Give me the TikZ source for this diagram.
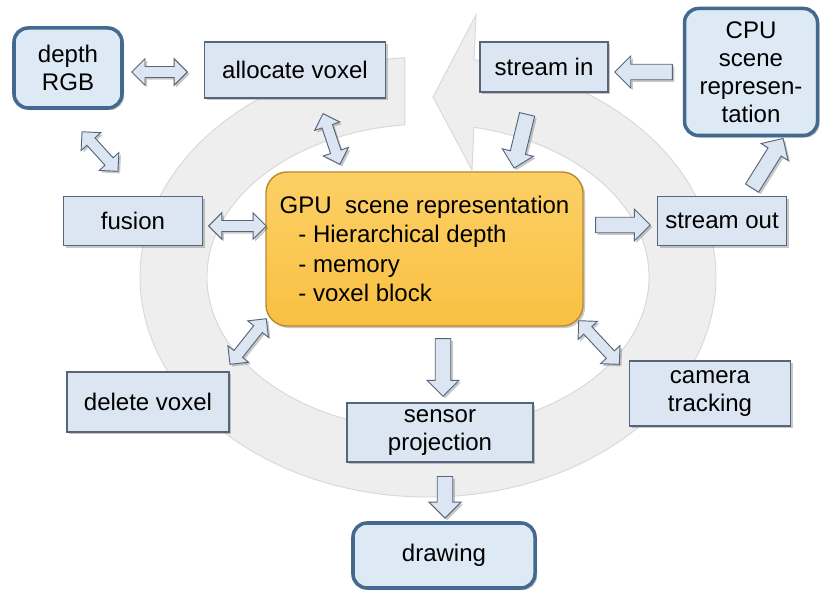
\documentclass[tikz,border=0pt]{standalone}
\usepackage{fontspec}
\setmainfont{Liberation Sans}
\usetikzlibrary{shapes.arrows,shadows,calc}
\definecolor{boxfill}{HTML}{DCE6F2}
\definecolor{boxdraw}{HTML}{56667A}
\definecolor{rfill}{HTML}{DDEAF6}
\definecolor{rdraw}{HTML}{44698F}
\definecolor{gputop}{HTML}{FCD066}
\definecolor{gpubot}{HTML}{F9C042}
\definecolor{gpudraw}{HTML}{B98A30}
\definecolor{ringfill}{HTML}{EEEEEE}
\definecolor{ringdraw}{HTML}{D8D8D8}
\tikzset{
  txt/.style={font=\fontsize{20.5}{24}\selectfont},
  wh/.style 2 args={minimum width=#1*0.03cm, minimum height=#2*0.03cm},
  shad/.style={drop shadow={shadow xshift=1.8pt, shadow yshift=-1.8pt, opacity=0.3, fill=black!70}},
  sq/.style={txt, draw=boxdraw, fill=boxfill, line width=1.1pt, align=center, inner sep=0pt, shad},
  rbox/.style={txt, draw=rdraw, fill=rfill, line width=3pt, rounded corners=12pt, align=center, inner sep=0pt, shad},
  gpubox/.style={font=\fontsize{20.5}{25}\selectfont, draw=gpudraw, top color=gputop, bottom color=gpubot, line width=1.2pt, rounded corners=18pt, align=left, inner sep=0pt, shad},
  dbl/.style={double arrow, draw=boxdraw, fill=boxfill, line width=0.8pt, inner xsep=0pt, inner ysep=4.3pt, double arrow head extend=6.6pt, double arrow tip angle=90, shad},
  sgl/.style={single arrow, draw=boxdraw, fill=boxfill, line width=0.8pt, inner xsep=0pt, inner ysep=6.2pt, single arrow head extend=7pt, single arrow tip angle=90, shad},
  ring/.style={fill=ringfill, draw=ringdraw, line width=0.8pt}
}
\newcommand\fatarrow[3]{\path let \p1=#2, \p2=#3, \n1={atan2(\y2-\y1,\x2-\x1)}, \n2={veclen(\x2-\x1,\y2-\y1)} in node[#1, rotate=\n1, minimum height=\n2] at ($#2!0.5!#3$) {};}
\begin{document}
\begin{tikzpicture}[x=0.03cm, y=0.03cm]
\fill[white] (0,0) rectangle (825,591);
\useasboundingbox (0,0) rectangle (825,591);
% big circular arrow
\path[ring] (428,314) ++(94.6:288 and 220)
  arc[start angle=94.6, end angle=440.8, x radius=288, y radius=220]
  -- (476,576) -- (433,494) -- (472,421)
  -- ($(428,314)+(438:221 and 153)$)
  arc[start angle=438, end angle=96, x radius=221, y radius=153] -- cycle;
% nodes
\node[rbox, wh={108}{80}] (depth) at (68,523) {depth\\RGB};
\node[sq, wh={181}{56}] (alloc) at (295,521) {allocate voxel};
\node[sq, wh={128}{50}] (streamin) at (544,524) {stream in};
\node[rbox, wh={133}{127}] (cpu) at (751,519) {CPU\\scene\\represen-\\tation};
\node[sq, wh={139}{49}] (fusion) at (133,370) {fusion};
\node[gpubox, wh={317}{154}] (gpu) at (424.5,342) {GPU~ scene representation\\\hspace*{16pt}- Hierarchical depth\\\hspace*{16pt}- memory\\\hspace*{16pt}- voxel block};
\node[sq, wh={129}{49}] (streamout) at (722,370) {stream out};
\node[sq, wh={162}{60}] (delete) at (148,189) {delete voxel};
\node[sq, wh={186}{59}] (sensor) at (440,158.5) {sensor\\projection};
\node[sq, wh={161}{65}] (camera) at (710,197.5) {camera\\tracking};
\node[rbox, wh={182}{65}] (drawing) at (444,35.5) {drawing};
% block arrows
\fatarrow{dbl}{($(depth.east)+(8,-4)$)}{($(alloc.west)+(-16.5,-2)$)}
\fatarrow{dbl}{($(depth.south)+(14,-22)$)}{($(fusion.north)+(-15,24.5)$)}
\fatarrow{dbl}{($(alloc.south)+(28,-15)$)}{($(gpu.north)+(-84.5,7)$)}
\fatarrow{sgl}{($(streamin.south)+(-16,-18)$)}{($(gpu.north)+(90.5,7)$)}
\fatarrow{sgl}{($(cpu.west)+(-6.5,0)$)}{($(streamin.east)+(10,-5)$)}
\fatarrow{sgl}{($(streamout.north)+(28,4.5)$)}{($(cpu.south)+(30,-4.5)$)}
\fatarrow{sgl}{($(gpu.east)+(8,24)$)}{($(streamout.west)+(-10.5,-4)$)}
\fatarrow{dbl}{($(fusion.east)+(5.5,-5)$)}{($(gpu.west)+(1,23)$)}
\fatarrow{dbl}{($(delete.north)+(82,7)$)}{($(gpu.south west)+(1,8)$)}
\fatarrow{sgl}{($(gpu.south)+(18.5,-8)$)}{($(sensor.north)+(3,10)$)}
\fatarrow{dbl}{($(gpu.south east)+(-5,6)$)}{($(camera.north west)+(-9.5,-4)$)}
\fatarrow{sgl}{($(sensor.south)+(5,-10)$)}{($(drawing.north)+(1,7)$)}
\end{tikzpicture}
\end{document}
